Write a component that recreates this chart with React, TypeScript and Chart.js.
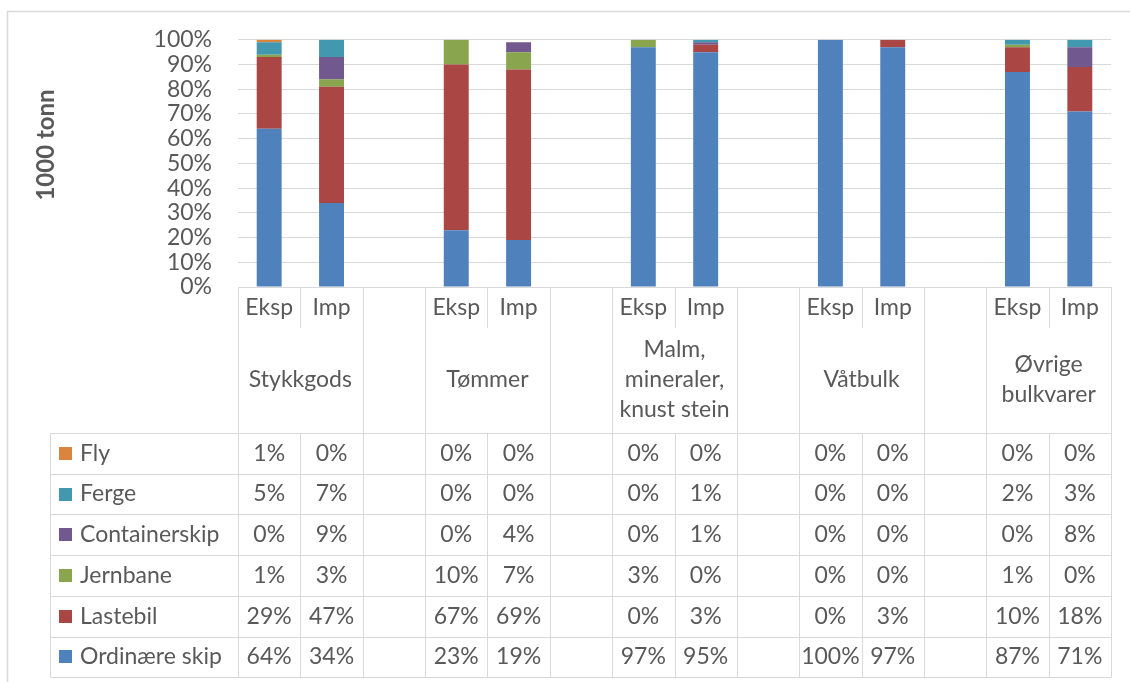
import { useEffect, useRef } from 'react';
import { Chart, registerables } from 'chart.js';

Chart.register(...registerables);

// Bottom-level categories (one slot per bar, blank slots separate the groups)
const flows = ['Eksp', 'Imp', '', 'Eksp', 'Imp', '', 'Eksp', 'Imp', '', 'Eksp', 'Imp', '', 'Eksp', 'Imp'];
// Top-level categories, each spanning an Eksp/Imp pair
const groups: string[][] = [
  ['Stykkgods'],
  ['Tømmer'],
  ['Malm,', 'mineraler,', 'knust stein'],
  ['Våtbulk'],
  ['Øvrige', 'bulkvarer'],
];

// Shares per transport mode (%)
const ordinaereSkip = [64, 34, null, 23, 19, null, 97, 95, null, 100, 97, null, 87, 71];
const lastebil = [29, 47, null, 67, 69, null, 0, 3, null, 0, 3, null, 10, 18];
const jernbane = [1, 3, null, 10, 7, null, 3, 0, null, 0, 0, null, 1, 0];
const containerskip = [0, 9, null, 0, 4, null, 0, 1, null, 0, 0, null, 0, 8];
const ferge = [5, 7, null, 0, 0, null, 0, 1, null, 0, 0, null, 2, 3];
const fly = [1, 0, null, 0, 0, null, 0, 0, null, 0, 0, null, 0, 0];

const seriesNames = ['Ordinære skip', 'Lastebil', 'Jernbane', 'Containerskip', 'Ferge', 'Fly'];
const seriesValues = [ordinaereSkip, lastebil, jernbane, containerskip, ferge, fly];
const seriesColors = ['#4F81BD', '#AA4643', '#89A54E', '#71588F', '#4198AF', '#DB843D'];

const yTickValues = [0, 10, 20, 30, 40, 50, 60, 70, 80, 90, 100];

const FONT = 'Lato, "Open Sans", sans-serif';
const TEXT = '#595959';
const LINE = '#D9D9D9';
const LABEL_SIZE = 23;

const categoryTablePlugin = {
  id: 'categoryTable',
  afterDraw(chart: any) {
    const { ctx, chartArea } = chart;
    const xs = chart.scales.x;
    const n = flows.length;
    const left = chartArea.left;
    const right = chartArea.right;
    const colW = (right - left) / n;
    const axisY = chartArea.bottom;
    const level1Bottom = axisY + 41;
    const tableTop = axisY + 146;
    const rowH = 40.7;
    const rows = seriesNames.length;
    const tableBottom = tableTop + rows * rowH;
    const tableLeft = 50;
    const edge = (i: number) => Math.round(left + i * colW) + 0.5;

    ctx.save();

    // outer frame
    ctx.strokeStyle = LINE;
    ctx.lineWidth = 1.5;
    ctx.strokeRect(7.5, 11.5, 1200, 800);

    // y-axis title
    ctx.save();
    ctx.translate(46, 145);
    ctx.rotate(-Math.PI / 2);
    ctx.fillStyle = TEXT;
    ctx.font = `bold 24px ${FONT}`;
    ctx.textAlign = 'center';
    ctx.textBaseline = 'middle';
    ctx.fillText('1000 tonn', 0, 0);
    ctx.restore();

    ctx.strokeStyle = LINE;
    ctx.lineWidth = 1;
    ctx.beginPath();
    // vertical separators in the category area and the table
    for (let i = 0; i <= n; i++) {
      const xe = edge(i);
      const isInner = i > 0 && i < n && flows[i - 1] === 'Eksp' && flows[i] === 'Imp';
      ctx.moveTo(xe, axisY);
      ctx.lineTo(xe, isInner ? level1Bottom : tableTop);
      ctx.moveTo(xe, tableTop);
      ctx.lineTo(xe, tableBottom);
    }
    // table horizontal lines
    for (let r = 0; r <= rows; r++) {
      const yy = Math.round(tableTop + r * rowH) + 0.5;
      ctx.moveTo(tableLeft, yy);
      ctx.lineTo(edge(n), yy);
    }
    ctx.moveTo(tableLeft + 0.5, Math.round(tableTop) + 0.5);
    ctx.lineTo(tableLeft + 0.5, Math.round(tableBottom) + 0.5);
    ctx.stroke();

    ctx.fillStyle = TEXT;
    ctx.font = `${LABEL_SIZE}px ${FONT}`;
    ctx.textAlign = 'center';
    ctx.textBaseline = 'middle';

    // first level labels
    flows.forEach((f, i) => {
      if (f) ctx.fillText(f, xs.getPixelForValue(i), axisY + 21);
    });

    // second level labels, centred under each Eksp/Imp pair
    groups.forEach((lines, g) => {
      const cx = (xs.getPixelForValue(g * 3) + xs.getPixelForValue(g * 3 + 1)) / 2;
      const lh = 30;
      const cy = axisY + 93;
      lines.forEach((t, k) => {
        ctx.fillText(t, cx, cy + (k - (lines.length - 1) / 2) * lh);
      });
    });

    // data table rows, top row is the last series
    for (let r = 0; r < rows; r++) {
      const s = rows - 1 - r;
      const cy = tableTop + r * rowH + rowH / 2;
      ctx.fillStyle = seriesColors[s];
      ctx.fillRect(59, Math.round(cy - 6.5), 13, 13);
      ctx.fillStyle = TEXT;
      ctx.textAlign = 'left';
      ctx.fillText(seriesNames[s], 80, cy);
      ctx.textAlign = 'center';
      seriesValues[s].forEach((v, i) => {
        if (v !== null) ctx.fillText(`${v}%`, xs.getPixelForValue(i), cy);
      });
    }

    ctx.restore();
  },
};

export default function App() {
  const canvasRef = useRef<HTMLCanvasElement>(null);

  useEffect(() => {
    const canvas = canvasRef.current;
    if (!canvas) return;
    const chart = new Chart(canvas, {
      type: 'bar',
      data: {
        labels: flows.map((f, i) => `${i}`),
        datasets: seriesNames.map((name, s) => ({
          label: name,
          data: seriesValues[s],
          backgroundColor: seriesColors[s],
          borderWidth: 0,
          barPercentage: 0.4,
          categoryPercentage: 1,
        })),
      },
      options: {
        responsive: false,
        animation: false,
        devicePixelRatio: 1,
        layout: { padding: { left: 0, top: 39, right: 19, bottom: 395 } },
        plugins: {
          legend: { display: false },
          tooltip: { enabled: false },
        },
        scales: {
          x: {
            stacked: true,
            display: false,
          },
          y: {
            stacked: true,
            min: 0,
            max: 100,
            afterBuildTicks: (scale: any) => {
              scale.ticks = yTickValues.map((v) => ({ value: v }));
            },
            afterFit: (scale: any) => {
              scale.width = 238;
            },
            border: { display: false },
            grid: { color: LINE, lineWidth: 1, drawTicks: false },
            ticks: {
              autoSkip: false,
              padding: 26,
              color: TEXT,
              font: { family: FONT, size: LABEL_SIZE },
              callback: (v: any) => `${v}%`,
            },
          },
        },
      },
      plugins: [categoryTablePlugin],
    });
    return () => chart.destroy();
  }, []);

  return (
    <div style={{ position: 'fixed', left: 0, top: 0, width: 1130, height: 682, background: '#fff' }}>
      <canvas ref={canvasRef} width={1130} height={682} style={{ width: 1130, height: 682 }} />
    </div>
  );
}
